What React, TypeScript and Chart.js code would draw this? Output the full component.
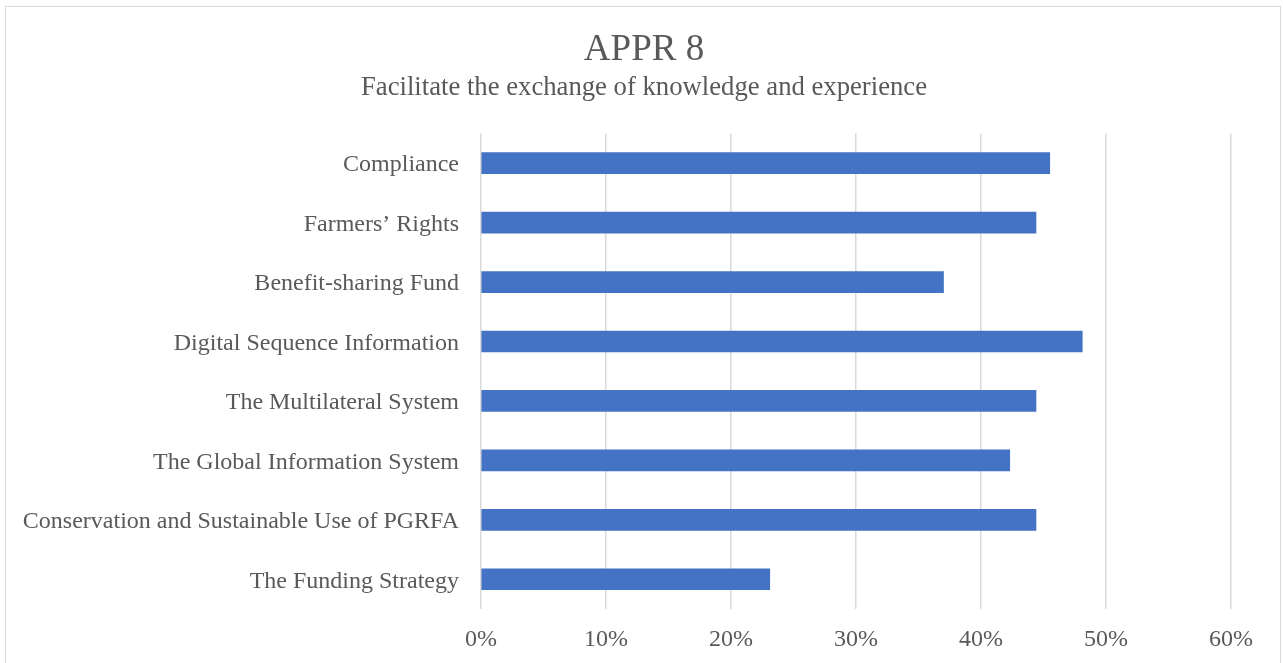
import React, { useEffect, useRef } from "react";
import { Chart, registerables } from "chart.js";

Chart.register(...registerables);

const TITLE = "APPR 8";
const SUBTITLE = "Facilitate the exchange of knowledge and experience";
const categories = [
  "Compliance",
  "Farmers’ Rights",
  "Benefit-sharing Fund",
  "Digital Sequence Information",
  "The Multilateral System",
  "The Global Information System",
  "Conservation and Sustainable Use of PGRFA",
  "The Funding Strategy",
];
const values = [45.5, 44.4, 37.0, 48.1, 44.4, 42.3, 44.4, 23.1];
const xTicks = [0, 10, 20, 30, 40, 50, 60];

const FONT = "'Liberation Serif', 'Times New Roman', Times, serif";
const TEXT = "#595959";

export default function App() {
  const ref = useRef<HTMLCanvasElement | null>(null);

  useEffect(() => {
    if (!ref.current) return;
    const chart = new Chart(ref.current, {
      type: "bar",
      data: {
        labels: categories,
        datasets: [
          {
            data: values,
            backgroundColor: "#4472C4",
            borderWidth: 0,
            barThickness: 21,
            yAxisID: "y",
            xAxisID: "x",
          },
        ],
      },
      options: {
        indexAxis: "y",
        responsive: false,
        animation: false,
        layout: { padding: { left: 5, right: 0, top: 0, bottom: 0 } },
        plugins: {
          legend: { display: false },
          tooltip: { enabled: false },
          title: {
            display: true,
            text: TITLE,
            color: TEXT,
            font: { family: FONT, size: 37, weight: "normal" },
            padding: { top: 28, bottom: 0 },
          },
          subtitle: {
            display: true,
            text: SUBTITLE,
            color: TEXT,
            font: { family: FONT, size: 26.7, weight: "normal" },
            padding: { top: 0, bottom: 29 },
          },
        },
        scales: {
          x: {
            min: 0,
            max: 60,
            afterBuildTicks: (scale: any) => {
              scale.ticks = xTicks.map((v) => ({ value: v }));
            },
            afterFit: (scale: any) => {
              scale.height = 54;
            },
            ticks: {
              color: TEXT,
              font: { family: FONT, size: 24 },
              padding: 16,
              callback: (v: any) => `${v}%`,
            },
            grid: {
              color: "#d9d9d9",
              lineWidth: 1.5,
              drawTicks: false,
            },
            border: { display: false },
          },
          y: {
            afterFit: (scale: any) => {
              scale.width = 476;
            },
            ticks: {
              color: TEXT,
              font: { family: FONT, size: 24 },
              padding: 22,
              labelOffset: 2,
            },
            grid: { display: false, drawTicks: false },
            border: { display: false },
          },
          yRight: {
            type: "category",
            position: "right",
            labels: categories,
            afterFit: (scale: any) => {
              scale.width = 52;
            },
            ticks: { display: false },
            grid: { display: false, drawTicks: false },
            border: { display: false },
          },
        },
      },
    });
    return () => chart.destroy();
  }, []);

  return (
    <div
      style={{
        position: "fixed",
        left: 0,
        top: 0,
        width: 1283,
        height: 663,
        overflow: "hidden",
        background: "#ffffff",
      }}
    >
      <div
        style={{
          position: "absolute",
          left: 5,
          top: 6,
          width: 1276,
          height: 700,
          border: "1px solid #d9d9d9",
          boxSizing: "border-box",
        }}
      />
      <canvas
        ref={ref}
        width={1283}
        height={663}
        style={{ position: "absolute", left: 0, top: 0 }}
      />
    </div>
  );
}
